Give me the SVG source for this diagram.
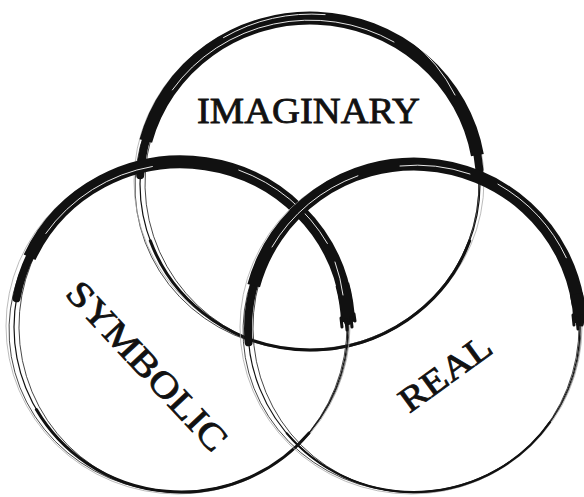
<svg xmlns="http://www.w3.org/2000/svg" width="584" height="497" viewBox="0 0 584 497">
<style>
.thin{fill:none;stroke:#111;stroke-width:1.2}
.hair{fill:none;stroke:#222;stroke-width:0.8}
.faint{fill:none;stroke:#aaa;stroke-width:0.8}
.med{fill:none;stroke:#111;stroke-width:3;stroke-linecap:round}
.brush{fill:none;stroke:#111;stroke-width:8;stroke-linecap:round}
.brushw{fill:none;stroke:#111;stroke-width:13;stroke-linecap:butt}
.streak{fill:none;stroke:#fff;stroke-width:0.9;stroke-linecap:round}
.tip{fill:none;stroke:#111;stroke-width:3;stroke-linecap:round}
.lbl{font-family:"Liberation Serif","Times New Roman",serif;fill:#111;stroke:#111;stroke-width:0.8}
</style>
<rect width="584" height="497" fill="#fff"/>
<g id="imaginary">
  <ellipse class="thin" cx="310" cy="184" rx="170" ry="166"/>
  <ellipse class="hair" cx="312" cy="183" rx="167" ry="168" transform="rotate(4 312 183)"/>
  <ellipse class="hair" cx="307" cy="186" rx="172" ry="164" transform="rotate(-3 307 186)"/>
  <ellipse class="faint" cx="309" cy="181" rx="175" ry="168"/>
  <path class="med" d="M469.7 240.8 A170 166 0 0 1 150.3 240.8"/>
  <path class="brush" d="M140.2 175.3 A170 166 0 0 1 479.4 169.5"/>
  <path class="brushw" d="M145.8 141 A170 166 0 0 1 477.4 155.2"/>
  <path class="streak" d="M172.4 89.9 A168 164 0 0 1 394 42"/>
  <path class="streak" d="M223.5 37.6 A174 170 0 0 1 325.1 14.6"/>
  <path class="streak" d="M410 40 A166 162 0 0 1 455 95"/>
  <text class="lbl" x="308.5" y="123" font-size="35" text-anchor="middle" textLength="223" lengthAdjust="spacingAndGlyphs">IMAGINARY</text>
</g>
<g id="symbolic">
  <ellipse class="thin" cx="181" cy="327" rx="167" ry="165"/>
  <ellipse class="hair" cx="183" cy="326" rx="164" ry="167" transform="rotate(5 183 326)"/>
  <ellipse class="hair" cx="179" cy="329" rx="170" ry="163" transform="rotate(-4 179 329)"/>
  <ellipse class="faint" cx="178" cy="326" rx="172" ry="168"/>
  <path class="med" d="M308.9 433.1 A167 165 0 0 1 36.4 409.5"/>
  <path class="brush" d="M16.5 298.3 A167 165 0 0 1 347.9 321.2"/>
  <path class="brushw" d="M29.6 257.3 A167 165 0 0 1 346.4 304"/>
  <path class="brushw" style="stroke-width:14" d="M342.3 284.3 A167 165 0 0 1 348 322"/>
  <path class="tip" d="M341 318 L342 327 M346 320 L347 330 M351 318 L352 327 M354 314 L355 321"/>
  <path class="streak" d="M45.8 233.5 A165 163 0 0 1 152.4 166.5"/>
  <path class="streak" d="M238.8 170.1 A169 167 0 0 1 327.4 243.5"/>
  <path class="streak" d="M335 262 A164 162 0 0 1 343 295"/>
  <text class="lbl" transform="translate(147 366) rotate(47)" x="0" y="12" font-size="36" text-anchor="middle" textLength="218" lengthAdjust="spacingAndGlyphs">SYMBOLIC</text>
</g>
<g id="real">
  <ellipse class="thin" cx="414" cy="328" rx="166" ry="164"/>
  <ellipse class="hair" cx="416" cy="327" rx="163" ry="166" transform="rotate(5 416 327)"/>
  <ellipse class="hair" cx="412" cy="330" rx="169" ry="162" transform="rotate(-4 412 330)"/>
  <ellipse class="faint" cx="411" cy="327" rx="171" ry="167"/>
  <path class="med" style="stroke-width:2.2" d="M550 422.1 A166 164 0 0 1 286.8 433.4"/>
  <path class="brush" d="M248.6 342.3 A166 164 0 1 1 579.9 322.3"/>
  <path class="brushw" d="M253.7 285.6 A166 164 0 0 1 578.4 305.2"/>
  <path class="brushw" style="stroke-width:13" d="M576.4 293.9 A166 164 0 0 1 580 323"/>
  <path class="tip" d="M573 315 L574 325 M577 318 L578 329 M582 316 L582 325"/>
  <path class="streak" d="M272 247 A164 162 0 0 1 357.9 175.8"/>
  <path class="streak" d="M498 184.2 A168 166 0 0 1 566.3 257.8"/>
  <path class="streak" d="M400 166 A163 161 0 0 1 470 174"/>
  <text class="lbl" transform="translate(445 373) rotate(-36)" x="0" y="12" font-size="35" text-anchor="middle" textLength="106" lengthAdjust="spacingAndGlyphs">REAL</text>
</g>
<g id="connectors"></g>
</svg>
